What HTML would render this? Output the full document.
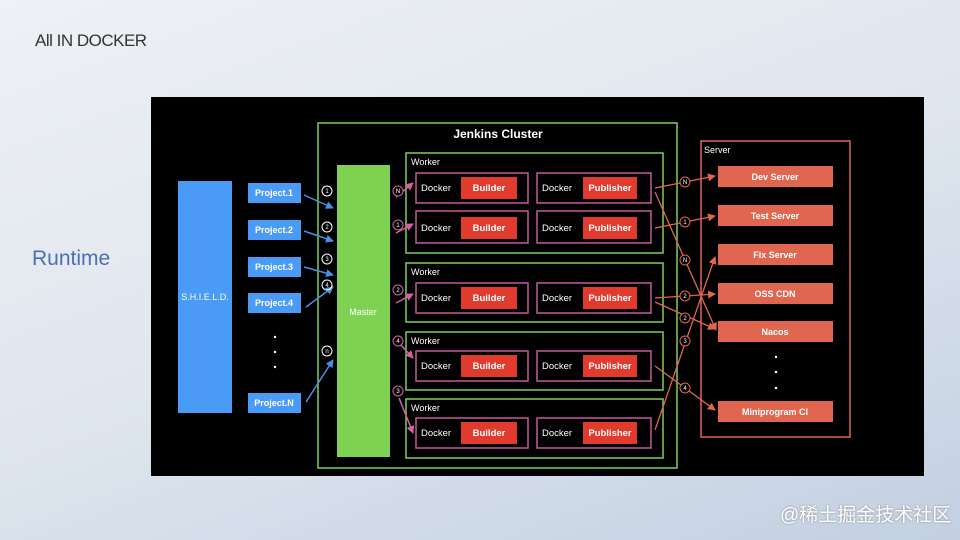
<!DOCTYPE html>
<html><head><meta charset="utf-8"><style>
html,body{margin:0;padding:0}
body{width:960px;height:540px;overflow:hidden;background:linear-gradient(160deg,#eef1f5 0%,#dfe6ee 50%,#c3d0e2 100%);font-family:"Liberation Sans",sans-serif;position:relative}
.t1{position:absolute;left:35px;top:31px;font-size:17px;color:#333;letter-spacing:-0.5px}
.t2{position:absolute;left:32px;top:247px;font-size:21px;color:#4a6fb5}
.wm{position:absolute;left:780px;top:500px;font-size:19px;color:#fff;font-family:"Liberation Sans","Noto Sans CJK SC",sans-serif;text-shadow:0 0 2px #888}
svg{position:absolute;left:0;top:0}
</style></head><body>
<div class="t1">All IN DOCKER</div>
<div class="t2">Runtime</div>
<svg width="960" height="540" font-family="Liberation Sans, sans-serif">
<defs>
<marker id="ab" markerWidth="8" markerHeight="8" refX="7" refY="4" orient="auto" markerUnits="userSpaceOnUse"><path d="M0,0 L8,4 L0,8z" fill="#4a90e2"/></marker>
<marker id="ap" markerWidth="8" markerHeight="8" refX="7" refY="4" orient="auto" markerUnits="userSpaceOnUse"><path d="M0,0 L8,4 L0,8z" fill="#d65fa8"/></marker>
<marker id="ao" markerWidth="8" markerHeight="8" refX="7" refY="4" orient="auto" markerUnits="userSpaceOnUse"><path d="M0,0 L8,4 L0,8z" fill="#e0664f"/></marker>
</defs>
<rect x="151" y="97" width="773" height="379" fill="#000"/>
<rect x="318" y="123" width="359" height="345" fill="none" stroke="#7ccf5a" stroke-width="1.5"/>
<text x="498" y="138" fill="#fff" font-size="12" font-weight="bold" text-anchor="middle">Jenkins Cluster</text>
<rect x="178" y="181" width="54" height="232" fill="#4a9bf5"/>
<text x="205" y="300" fill="#fff" font-size="9" text-anchor="middle">S.H.I.E.L.D.</text>
<g fill="#4a9bf5">
<rect x="248" y="183" width="53" height="20"/><rect x="248" y="220" width="53" height="20"/><rect x="248" y="257" width="53" height="20"/><rect x="248" y="293" width="53" height="20"/><rect x="248" y="393" width="53" height="20"/></g>
<g fill="#fff" font-size="9" font-weight="bold" text-anchor="middle">
<text x="274" y="196">Project.1</text><text x="274" y="233">Project.2</text><text x="274" y="270">Project.3</text><text x="274" y="306">Project.4</text><text x="274" y="406">Project.N</text></g>
<g fill="#fff"><circle cx="275" cy="337" r="1.2"/><circle cx="275" cy="352" r="1.2"/><circle cx="275" cy="367" r="1.2"/>
<circle cx="776" cy="357" r="1.2"/><circle cx="776" cy="372" r="1.2"/><circle cx="776" cy="388" r="1.2"/></g>
<rect x="337" y="165" width="53" height="292" fill="#7fd152"/>
<text x="363" y="315" fill="#fff" font-size="9" text-anchor="middle">Master</text>
<g stroke="#4a90e2" stroke-width="1.5" marker-end="url(#ab)">
<line x1="304" y1="195" x2="333" y2="208"/><line x1="304" y1="231" x2="333" y2="241"/><line x1="304" y1="267" x2="333" y2="275"/><line x1="306" y1="307" x2="333" y2="287"/><line x1="306" y1="402" x2="333" y2="360"/>
</g>
<g fill="none" stroke="#fff" stroke-width="1"><circle cx="327" cy="191" r="5"/><circle cx="327" cy="227" r="5"/><circle cx="327" cy="259" r="5"/><circle cx="327" cy="285" r="5"/><circle cx="327" cy="351" r="5"/></g>
<g fill="#fff" font-size="6" text-anchor="middle"><text x="327" y="193">1</text><text x="327" y="229">2</text><text x="327" y="261">3</text><text x="327" y="287">4</text><text x="327" y="353">n</text></g>
<g fill="none" stroke="#7ccf5a" stroke-width="1.5">
<rect x="406" y="153" width="257" height="100"/><rect x="406" y="263" width="257" height="59"/><rect x="406" y="332" width="257" height="58"/><rect x="406" y="399" width="257" height="59"/></g>
<g fill="#fff" font-size="9"><text x="411" y="165">Worker</text><text x="411" y="275">Worker</text><text x="411" y="344">Worker</text><text x="411" y="411">Worker</text></g>
<g fill="none" stroke="#c65a9a" stroke-width="1.5">
<rect x="416" y="173" width="112" height="30"/><rect x="537" y="173" width="114" height="30"/>
<rect x="416" y="211" width="112" height="32"/><rect x="537" y="211" width="114" height="32"/>
<rect x="416" y="283" width="112" height="30"/><rect x="537" y="283" width="114" height="30"/>
<rect x="416" y="351" width="112" height="30"/><rect x="537" y="351" width="114" height="30"/>
<rect x="416" y="418" width="112" height="30"/><rect x="537" y="418" width="114" height="30"/></g>
<g fill="#e03b2d">
<rect x="461" y="177" width="56" height="22"/><rect x="583" y="177" width="54" height="22"/>
<rect x="461" y="217" width="56" height="22"/><rect x="583" y="217" width="54" height="22"/>
<rect x="461" y="287" width="56" height="22"/><rect x="583" y="287" width="54" height="22"/>
<rect x="461" y="355" width="56" height="22"/><rect x="583" y="355" width="54" height="22"/>
<rect x="461" y="422" width="56" height="22"/><rect x="583" y="422" width="54" height="22"/></g>
<g fill="#fff" font-size="9.5">
<text x="421" y="191">Docker</text><text x="542" y="191">Docker</text>
<text x="421" y="231">Docker</text><text x="542" y="231">Docker</text>
<text x="421" y="301">Docker</text><text x="542" y="301">Docker</text>
<text x="421" y="369">Docker</text><text x="542" y="369">Docker</text>
<text x="421" y="436">Docker</text><text x="542" y="436">Docker</text></g>
<g fill="#fff" font-size="9.5" font-weight="bold" text-anchor="middle">
<text x="489" y="191">Builder</text><text x="610" y="191">Publisher</text>
<text x="489" y="231">Builder</text><text x="610" y="231">Publisher</text>
<text x="489" y="301">Builder</text><text x="610" y="301">Publisher</text>
<text x="489" y="369">Builder</text><text x="610" y="369">Publisher</text>
<text x="489" y="436">Builder</text><text x="610" y="436">Publisher</text></g>
<g stroke="#d65fa8" stroke-width="1.5" marker-end="url(#ap)">
<line x1="396" y1="197" x2="413" y2="183"/><line x1="396" y1="233" x2="413" y2="224"/><line x1="396" y1="303" x2="413" y2="294"/><line x1="400" y1="344" x2="413" y2="358"/><line x1="399" y1="398" x2="413" y2="433"/></g>
<g fill="#000" stroke="#d65fa8" stroke-width="1"><circle cx="398" cy="191" r="5"/><circle cx="398" cy="225" r="5"/><circle cx="398" cy="290" r="5"/><circle cx="398" cy="341" r="5"/><circle cx="398" cy="391" r="5"/></g>
<g fill="#fff" font-size="6" text-anchor="middle"><text x="398" y="193">N</text><text x="398" y="227">1</text><text x="398" y="292">2</text><text x="398" y="343">4</text><text x="398" y="393">3</text></g>
<rect x="701" y="141" width="149" height="296" fill="none" stroke="#e0664f" stroke-width="1.5"/>
<text x="704" y="153" fill="#fff" font-size="9">Server</text>
<g fill="#e0664f">
<rect x="718" y="166" width="115" height="21"/><rect x="718" y="205" width="115" height="21"/><rect x="718" y="244" width="115" height="21"/><rect x="718" y="283" width="115" height="21"/><rect x="718" y="321" width="115" height="21"/><rect x="718" y="401" width="115" height="21"/></g>
<g fill="#fff" font-size="9" font-weight="bold" text-anchor="middle">
<text x="775" y="180">Dev Server</text><text x="775" y="219">Test Server</text><text x="775" y="258">Fix Server</text><text x="775" y="297">OSS CDN</text><text x="775" y="335">Nacos</text><text x="775" y="415">Miniprogram CI</text></g>
<g stroke="#e0664f" stroke-width="1.3" marker-end="url(#ao)">
<line x1="655" y1="188" x2="715" y2="176"/><line x1="655" y1="228" x2="715" y2="216"/>
<line x1="655" y1="192" x2="716" y2="330"/><line x1="655" y1="298" x2="715" y2="294"/>
<line x1="655" y1="302" x2="715" y2="329"/><line x1="655" y1="430" x2="715" y2="257"/>
<line x1="655" y1="366" x2="715" y2="410"/></g>
<g fill="#000" stroke="#e0664f" stroke-width="1"><circle cx="685" cy="182" r="5"/><circle cx="685" cy="222" r="5"/><circle cx="685" cy="260" r="5"/><circle cx="685" cy="296" r="5"/><circle cx="685" cy="318" r="5"/><circle cx="685" cy="341" r="5"/><circle cx="685" cy="388" r="5"/></g>
<g fill="#fff" font-size="6" text-anchor="middle"><text x="685" y="184">N</text><text x="685" y="224">1</text><text x="685" y="262">N</text><text x="685" y="298">2</text><text x="685" y="320">2</text><text x="685" y="343">3</text><text x="685" y="390">4</text></g>
</svg>
<div class="wm">@稀土掘金技术社区</div>
</body></html>
